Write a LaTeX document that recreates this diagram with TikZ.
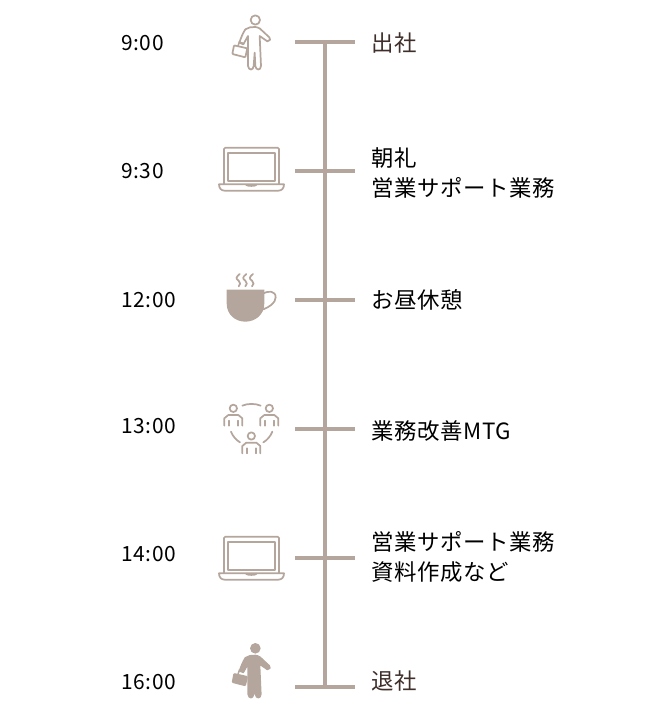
\documentclass[tikz,border=0pt]{standalone}
\usepackage{fontspec}
\setmainfont[LetterSpace=3]{Noto Sans CJK JP}
\usepackage{xcolor}
\usetikzlibrary{positioning}
\definecolor{taupe}{HTML}{B4A69C}
\definecolor{umber}{HTML}{3E2F2A}
\tikzset{
  rail/.style={draw=taupe,line width=2.6pt},
  hourlabel/.style={anchor=west,inner sep=0pt,text=black,font=\fontsize{15.7}{20}\selectfont},
  tasklabel/.style={anchor=west,inner sep=0pt,text=black,font=\fontsize{16.8}{22.6}\selectfont,align=left},
  iconline/.style={draw=taupe,line width=1.3pt,line join=round,line cap=round},
  iconfill/.style={fill=taupe,draw=taupe,line width=.9pt,line join=round},
  % icon paths are written in 3x units
  pics/walker/.style={code={
    \path[#1] (136,60) circle (14);
    \path[#1] (120,82) -- (106,88) .. controls (98,100) and (92,116) .. (88,128)
      -- (100,133) -- (114,108) -- (114,198) .. controls (116,212) and (130,212) .. (131,198)
      -- (134,158) -- (136,198) .. controls (138,212) and (152,212) .. (153,198)
      -- (149,108) -- (172,124) .. controls (180,124) and (184,116) .. (178,112)
      -- (150,86) .. controls (142,80) and (130,80) .. (120,82) -- cycle;
    \path[#1,rounded corners=.6pt] (72,136) -- (112,145) -- (106,172) -- (67,162) -- cycle;
    \path[draw=taupe,line width=1.1pt] (84,138) -- (88,126) -- (100,130);
  }},
  pics/laptop/.style={code={
    \draw[iconline] (42,552) -- (42,447) -- (46,443) -- (203,443) -- (207,447) -- (207,552);
    \draw[iconline] (53,458) rectangle (195,543);
    \draw[iconline] (27,553) -- (222,553) .. controls (222,565) and (215,572) .. (205,572)
      -- (44,572) .. controls (34,572) and (27,565) .. (27,553) -- cycle;
    \draw[iconline] (108,554) .. controls (110,559) and (138,559) .. (140,554);
  }},
  pics/colleague/.style={code={
    \draw[iconline] (0,-52) circle (11);
    \draw[iconline] (-27,0) -- (-27,-22) -- (-15,-32) -- (15,-32) -- (27,-22) -- (27,0);
    \draw[iconline] (-13,-15) -- (-13,0) (13,-15) -- (13,0);
  }},
}

\begin{document}
\begin{tikzpicture}[x=.75pt,y=-.75pt]
  \useasboundingbox (0,0) rectangle (645,711);
  % ticks and spine
  \foreach \n/\y in {a/42,b/171,c/300,d/429,e/558,f/687} {
    \coordinate (left\n) at (295,\y);
    \coordinate (right\n) at (355,\y);
    \draw[rail] (left\n) -- (right\n);
  }
  \coordinate (spinetop) at (325,42);
  \coordinate (spinebottom) at (325,687);
  \draw[rail] (spinetop) -- (spinebottom);
  % times
  \node[hourlabel] (houra) at (121,43) {9:00};
  \node[hourlabel] (hourb) at (121,171) {9:30};
  \node[hourlabel] (hourc) at (121,300) {12:00};
  \node[hourlabel] (hourd) at (121,426) {13:00};
  \node[hourlabel] (houre) at (121,554) {14:00};
  \node[hourlabel] (hourf) at (121,682) {16:00};
  % tasks
  \node[tasklabel,text=umber] (taska) at (371,43) {出社};
  \node[tasklabel] (taskb) at (371,173) {朝礼\\営業サポート業務};
  \node[tasklabel] (taskc) at (371,300) {お昼休憩};
  \node[tasklabel] (taskd) at (371,431) {業務改善MTG};
  \node[tasklabel] (taske) at (371,557) {営業サポート業務\\資料作成など};
  \node[tasklabel,text=umber] (taskf) at (371,681) {退社};
  % icons
  \begin{scope}[shift={(210,0)},x=.25pt,y=-.25pt]
    \pic {walker=iconline};
    \pic {laptop};
  \end{scope}
  \begin{scope}[shift={(210,389)},x=.25pt,y=-.25pt]
    \pic {laptop};
  \end{scope}
  \begin{scope}[shift={(210,628.3)},x=.25pt,y=-.25pt]
    \pic {walker=iconfill};
  \end{scope}
  \begin{scope}[shift={(210,260)},x=.25pt,y=-.25pt]
    % cup
    \fill[taupe] (50,89) -- (163,89) -- (163,130) .. controls (163,165) and (135,185) .. (106,185)
      .. controls (77,185) and (50,165) .. (50,130) -- cycle;
    \draw[iconline] (160,100) .. controls (175,92) and (197,92) .. (197,112)
      .. controls (197,130) and (175,142) .. (160,148);
    \foreach \x in {85,105,125}
      \draw[iconline] (\x+4,42) .. controls (\x-8,52) and (\x-8,56) .. (\x+1,62)
        .. controls (\x+8,68) and (\x+6,74) .. (\x+1,79);
    % meeting
    \pic at (70,497) {colleague};
    \pic at (178,497) {colleague};
    \pic at (124,580) {colleague};
    \draw[iconline] (97,437) .. controls (112,430) and (137,430) .. (152,437);
    \draw[iconline] (63,515) .. controls (68,528) and (78,540) .. (90,547);
    \draw[iconline] (187,515) .. controls (182,528) and (172,540) .. (160,547);
  \end{scope}
\end{tikzpicture}
\end{document}
